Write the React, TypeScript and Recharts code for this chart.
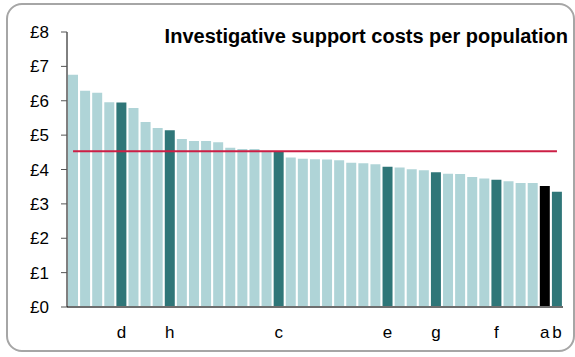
import React from "react";
import {
  BarChart,
  Bar,
  Cell,
  XAxis,
  YAxis,
  ReferenceLine,
} from "recharts";

// one bar per force, sorted high to low
const ids = Array.from({ length: 41 }, (_, i) => String(i + 1));

const costs = [
  6.76, 6.29, 6.23, 5.96, 5.95, 5.79, 5.38, 5.21, 5.14, 4.89, 4.83, 4.83,
  4.79, 4.63, 4.6, 4.6, 4.54, 4.54, 4.35, 4.31, 4.3, 4.29, 4.27, 4.2, 4.18,
  4.15, 4.08, 4.06, 4.01, 3.98, 3.92, 3.88, 3.87, 3.78, 3.74, 3.7, 3.66,
  3.61, 3.61, 3.52, 3.35,
];

const labels = [
  "", "", "", "", "d", "", "", "", "h", "", "", "", "", "", "", "", "", "c",
  "", "", "", "", "", "", "", "", "e", "", "", "", "g", "", "", "", "", "f",
  "", "", "", "a", "b",
];

const yTicks = [0, 1, 2, 3, 4, 5, 6, 7, 8];
const average = 4.53;

const data = ids.map((id, i) => ({ id, cost: costs[i], label: labels[i] }));

const LIGHT = "#afd4d7";
const DARK = "#2f7678";
const SELF = "#000000";

function barColor(label: string) {
  if (label === "a") return SELF;
  if (label) return DARK;
  return LIGHT;
}

export default function App() {
  return (
    <div
      style={{
        position: "absolute",
        left: 0,
        top: 0,
        width: 575,
        height: 357,
        background: "white",
        fontFamily: "'Liberation Sans', Arial, sans-serif",
      }}
    >
      <div
        style={{
          position: "absolute",
          left: 6,
          top: 3,
          width: 565,
          height: 345,
          border: "2px solid #a6a6a6",
          borderRadius: 16,
        }}
      />
      <div
        style={{
          position: "absolute",
          right: 7,
          top: 27,
          fontSize: 20,
          lineHeight: "19px",
          fontWeight: "bold",
          color: "#000",
          whiteSpace: "nowrap",
        }}
      >
        Investigative support costs per population
      </div>
      <BarChart
        width={575}
        height={357}
        data={data}
        margin={{ top: 32, right: 12, bottom: 20, left: 0 }}
        barCategoryGap={1}
      >
        <XAxis
          dataKey="id"
          interval={0}
          height={30}
          tickSize={0}
          tickMargin={19}
          tickFormatter={(v) => labels[Number(v) - 1]}
          tick={{ fill: "#000", fontSize: 17 }}
          axisLine={{ stroke: "#6e6e6e", strokeWidth: 2 }}
        />
        <YAxis
          width={67}
          domain={[0, 8]}
          ticks={yTicks}
          interval={0}
          tickSize={6}
          tickMargin={12}
          tickFormatter={(v) => `£${v}`}
          tick={{ fill: "#000", fontSize: 17 }}
          tickLine={{ stroke: "#555" }}
          axisLine={{ stroke: "#000" }}
        />
        <Bar dataKey="cost" barSize={10} isAnimationActive={false}>
          {data.map((d) => (
            <Cell key={d.id} fill={barColor(d.label)} />
          ))}
        </Bar>
        <ReferenceLine
          segment={[
            { x: ids[0], y: average },
            { x: ids[ids.length - 1], y: average },
          ]}
          stroke="#cc1f45"
          strokeWidth={2}
        />
      </BarChart>
    </div>
  );
}
